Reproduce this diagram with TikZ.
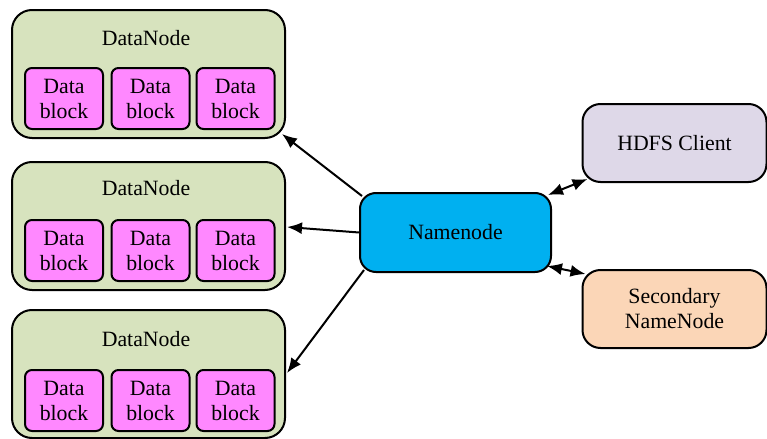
\documentclass[tikz,border=0pt]{standalone}
\usepackage{fontspec}
\setmainfont{Liberation Serif}
\usetikzlibrary{arrows.meta}

\definecolor{dngreen}{RGB}{215,227,190}
\definecolor{blockpink}{RGB}{255,136,255}
\definecolor{nnblue}{RGB}{0,176,240}
\definecolor{clientgray}{RGB}{222,216,232}
\definecolor{secpeach}{RGB}{251,214,183}

\tikzset{
  datanode/.style={draw,line width=1pt,rounded corners=10pt,fill=dngreen,
    minimum width=136.5pt,minimum height=64pt,inner sep=0pt},
  block/.style={draw,line width=1pt,rounded corners=3.5pt,fill=blockpink,
    minimum width=39pt,minimum height=30.5pt,inner sep=0pt,align=center},
  master/.style={draw,line width=1pt,rounded corners=8pt,fill=nnblue,
    minimum width=95.5pt,minimum height=39.5pt,inner sep=0pt,align=center},
  helper/.style={draw,line width=1pt,rounded corners=9pt,
    minimum width=92pt,minimum height=39pt,inner sep=0pt,align=center},
  link/.style={line width=1pt,-{Latex[length=7.5pt,width=6pt]}},
  duplex/.style={line width=1pt,{Latex[length=7.5pt,width=6pt]}-{Latex[length=7.5pt,width=6pt]}}
}

\begin{document}
\begin{tikzpicture}[x=0.5pt,y=-0.5pt,font=\fontsize{10.9}{12.5}\selectfont]
\useasboundingbox (0,0) rectangle (767,439);

% data nodes with their blocks
\node[datanode] (dn1) at (148.5,74) {};
\node at (146,38) (dn1label) {DataNode};
\node[block] (b11) at (64,98.5) {Data\\block};
\node[block] (b12) at (150.5,98.5) {Data\\block};
\node[block] (b13) at (235.5,98.5) {Data\\block};

\node[datanode] (dn2) at (148.5,226) {};
\node at (146,188) (dn2label) {DataNode};
\node[block] (b21) at (64,250.5) {Data\\block};
\node[block] (b22) at (150.5,250.5) {Data\\block};
\node[block] (b23) at (235.5,250.5) {Data\\block};

\node[datanode] (dn3) at (148.5,374) {};
\node at (146,339) (dn3label) {DataNode};
\node[block] (b31) at (64,400.5) {Data\\block};
\node[block] (b32) at (150.5,400.5) {Data\\block};
\node[block] (b33) at (235.5,400.5) {Data\\block};

% name node, client and secondary
\node[master] (nn) at (455.5,232.5) {Namenode};
\node[helper,fill=clientgray] (client) at (674.5,143) {HDFS Client};
\node[helper,fill=secpeach] (sec) at (674.5,309) {Secondary\\NameNode};

% connectors
\draw[link] ([shift={(3,4)}]nn.north west) -- ([shift={(-4,-5)}]dn1.south east);
\draw[link] (nn.west) -- ([shift={(1,1)}]dn2.east);
\draw[link] ([shift={(5,-3)}]nn.south west) -- ([shift={(1,-1)}]dn3.east);
\draw[duplex] ([shift={(-4,3)}]nn.north east) -- ([shift={(6,-4)}]client.south west);
\draw[duplex] ([shift={(-5,-7)}]nn.south east) -- ([shift={(4,5)}]sec.north west);
\end{tikzpicture}
\end{document}
